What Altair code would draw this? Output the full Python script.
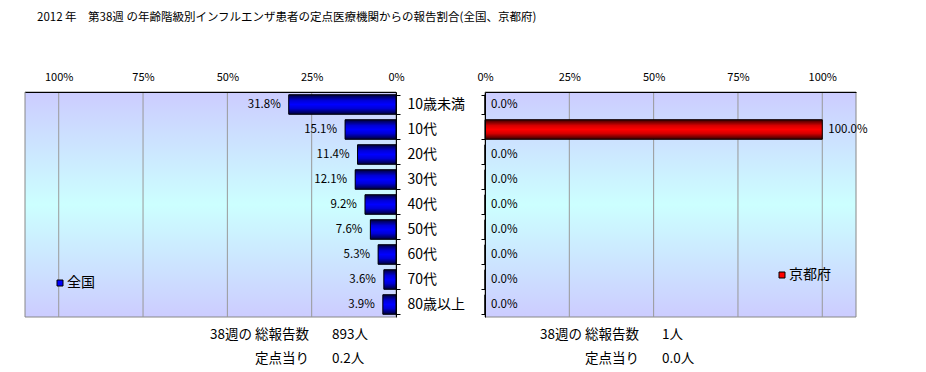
import altair as alt
import pandas as pd

# ---------------- data ----------------
year = 2012
week = 38
ages = ["10歳未満", "10代", "20代", "30代", "40代", "50代", "60代", "70代", "80歳以上"]
national_pct = [31.8, 15.1, 11.4, 12.1, 9.2, 7.6, 5.3, 3.6, 3.9]
kyoto_pct = [0.0, 100.0, 0.0, 0.0, 0.0, 0.0, 0.0, 0.0, 0.0]
regions = ["全国", "京都府"]
tick_values = [0, 25, 50, 75, 100]
total_reports = [893, 1]
per_sentinel = [0.2, 0.0]

FONT = "Noto Sans CJK JP"
W, H = 371, 225

title_text = f"{year} 年　第{week}週 の年齢階級別インフルエンザ患者の定点医療機関からの報告割合(全国、京都府)"


def grad(stops):
    return alt.LinearGradient(
        gradient="linear", x1=0, y1=0, x2=0, y2=1,
        stops=[alt.GradientStop(color=c, offset=o) for o, c in stops])


bg_grad = grad([(0, "#CCCCFF"), (0.5, "#CCFFFF"), (1, "#CCCCFF")])
blue_grad = grad([(0, "#000038"), (0.3, "#0000D8"), (0.5, "#0000FF"), (0.7, "#0000D8"), (1, "#000038")])
red_grad = grad([(0, "#380000"), (0.3, "#D80000"), (0.5, "#FF0000"), (0.7, "#D80000"), (1, "#380000")])

one_row = pd.DataFrame({"k": [0]})


def static_text(txt, x, y, size, align="left", baseline="middle"):
    return alt.Chart(one_row).mark_text(
        align=align, baseline=baseline, fontSize=size, font=FONT, color="black"
    ).encode(x=alt.value(x), y=alt.value(y), text=alt.value(txt))


def panel(values, region, solid, gradient, left_side, idx, legend_xy, info_x):
    df = pd.DataFrame({"age": ages, "value": values, "region": region})
    df["label"] = [f"{v:.1f}%" for v in values]
    grid_df = pd.DataFrame({"value": [t for t in tick_values if t > 0]})

    x_enc = alt.X(
        "value:Q",
        scale=alt.Scale(domain=[0, 110], reverse=left_side, nice=False),
        axis=alt.Axis(
            orient="top", values=tick_values, labelExpr="datum.value + '%'",
            title=None, grid=False, labelFlush=False,
            domainColor="black", domainWidth=1, tickSize=0, labelPadding=10,
            labelFontSize=11, labelFont=FONT, labelColor="black", zindex=1,
        ),
    )
    y_enc = alt.Y(
        "age:N",
        sort=ages,
        scale=alt.Scale(domain=ages, paddingInner=0.22, paddingOuter=0.11),
        axis=alt.Axis(
            orient="right" if left_side else "left", title=None,
            labels=left_side, labelFontSize=14, labelFont=FONT, labelColor="black",
            labelPadding=7, domainColor="black", domainWidth=1,
            tickColor="black", tickSize=4, tickBand="extent", grid=False, zindex=1,
        ),
    )

    background = alt.Chart(one_row).mark_rect(
        fill=bg_grad, stroke="#888888", strokeWidth=1
    ).encode(x=alt.value(0), x2=alt.value(W), y=alt.value(0), y2=alt.value(H))

    gridlines = alt.Chart(grid_df).mark_rule(color="#999999", strokeWidth=1).encode(
        x=x_enc, y=alt.value(0), y2=alt.value(H)
    )

    base = alt.Chart(df)
    legend_bars = base.mark_bar().encode(
        x=x_enc, y=y_enc,
        color=alt.Color(
            "region:N",
            scale=alt.Scale(domain=[region], range=[solid]),
            legend=alt.Legend(
                title=None, orient="none", legendX=legend_xy[0], legendY=legend_xy[1],
                symbolType="square", symbolSize=36, symbolStrokeColor="black",
                symbolStrokeWidth=1, labelFontSize=14, labelFont=FONT,
                labelColor="black", labelOffset=0, padding=0,
            ),
        ),
    )
    grad_bars = base.mark_bar(fill=gradient, stroke="black", strokeWidth=1).encode(
        x=x_enc, y=y_enc
    )
    labels = base.mark_text(
        align="right" if left_side else "left",
        dx=-8 if left_side else 6,
        baseline="middle", fontSize=11.5, font=FONT, color="black",
    ).encode(x=x_enc, y=y_enc, text="label:N")

    layers = [background, gridlines, legend_bars, grad_bars, labels]
    lx, rx = info_x
    layers += [
        static_text(f"{week}週の 総報告数", lx, 243, 13.5, align="right"),
        static_text(f"{total_reports[idx]}人", rx, 243, 13.5),
        static_text("定点当り", lx, 267, 13.5, align="right"),
        static_text(f"{per_sentinel[idx]:.1f}人", rx, 267, 13.5),
    ]
    if left_side:
        layers.append(static_text(title_text, 12, -74, 11.5))
    return alt.layer(*layers).properties(width=W, height=H)


left = panel(national_pct, regions[0], "#0000FF", blue_grad, True, 0, (28, 184), (284, 307))
right = panel(kyoto_pct, regions[1], "#FF0000", red_grad, False, 1, (290, 176), (154, 177))

chart = (
    alt.hconcat(left, right, spacing=89, bounds="flush")
    .resolve_scale(x="independent", y="independent", color="independent")
    .resolve_legend(color="independent")
    .properties(padding={"left": 16, "top": 4, "right": 0, "bottom": 0})
    .configure_view(stroke=None)
    .configure_text(font=FONT)
)

chart.save("out.html", embed_options={"renderer": "svg", "actions": False})
